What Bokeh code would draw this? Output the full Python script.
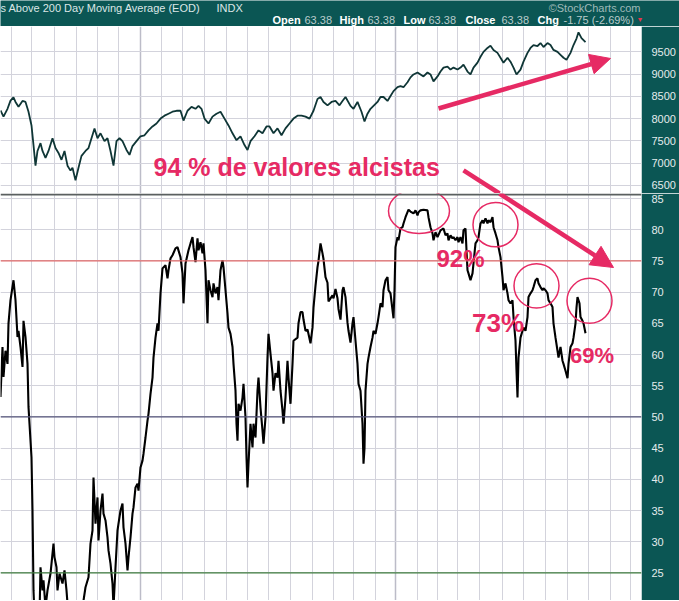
from bokeh.plotting import figure
from bokeh.layouts import column
from bokeh.models import (Range1d, LinearAxis, FixedTicker, Grid, Span, Label,
                          Arrow, NormalHead)
from bokeh.embed import file_html
from bokeh.resources import INLINE

# ---------------- data ----------------
# x = trading-day index across the chart
idx_x = [0, 3, 7, 10, 13, 15, 18, 22, 25, 28, 31, 33, 35, 37, 40, 42, 45, 48, 52, 55,
         58, 61, 64, 67, 70, 72, 75, 78, 81, 85, 88, 91, 94, 97, 100, 104, 107, 110, 113, 116,
         119, 122, 126, 129, 132, 136, 140, 144, 148, 152, 156, 160, 164, 168, 172, 176, 180, 183, 187, 191,
         195, 198, 201, 204, 208, 212, 216, 220, 224, 228, 232, 236, 240, 244, 247, 250, 254, 258, 262, 266,
         269, 273, 277, 281, 285, 289, 293, 297, 301, 305, 309, 313, 317, 320, 323, 327, 331, 335, 339, 342,
         345, 350, 353, 357, 361, 364, 367, 370, 373, 377, 380, 383, 387, 390, 393, 397, 400, 403, 407, 410,
         413, 417, 420, 423, 427, 430, 433, 437, 440, 443, 447, 450, 453, 457, 460, 463, 467, 470, 473, 477,
         480, 483, 487, 490, 493, 497, 500, 503, 507, 510, 513, 516, 520, 523, 527, 530, 533, 537, 540, 543,
         547, 550, 553, 557, 560, 563, 566, 570, 573, 576, 578, 581, 583, 585]
idx_y = [8185, 8046, 8222, 8405, 8480, 8376, 8266, 8398, 8376, 8156, 7848, 7407, 6945, 7275, 7451, 7275, 7121, 7275, 7561, 7341,
         7231, 7077, 7275, 6945, 6834, 6900, 6614, 6900, 7165, 7275, 7341, 7561, 7782, 7561, 7672, 7495, 7561, 7275, 6945, 7495,
         7561, 7495, 7297, 7187, 7385, 7495, 7605, 7627, 7738, 7826, 7892, 8002, 8068, 8112, 8156, 8178, 8178, 7958, 8178, 8266,
         8222, 8288, 8222, 8002, 7892, 8046, 8112, 8156, 8002, 7848, 7672, 7517, 7605, 7407, 7297, 7495, 7605, 7738, 7672, 7826,
         7826, 7672, 7782, 7627, 7782, 7892, 8002, 8068, 8068, 8046, 8002, 8178, 8443, 8487, 8376, 8300, 8376, 8398, 8300, 8398,
         8487, 8288, 8222, 8376, 8156, 7936, 8112, 8222, 8288, 8376, 8487, 8487, 8398, 8509, 8619, 8707, 8729, 8707, 8817, 8927,
         8993, 9037, 8993, 8949, 9037, 8993, 8839, 8949, 9059, 9147, 9169, 9103, 9147, 9103, 9147, 9214, 9059, 8993, 9147, 9258,
         9390, 9500, 9588, 9640, 9544, 9478, 9368, 9258, 9368, 9280, 9147, 8993, 9103, 9280, 9478, 9588, 9654, 9632, 9698, 9610,
         9698, 9654, 9544, 9500, 9434, 9368, 9324, 9478, 9654, 9800, 9940, 9808, 9764, 9720]

pct_x = [0, 2, 3, 5, 7, 8, 10, 13, 15, 17, 18, 20, 22, 23, 25, 27, 28, 31, 32, 33,
         35, 37, 39, 40, 42, 43, 45, 47, 50, 53, 54, 56, 57, 59, 62, 64, 66, 68, 72, 76,
         80, 82, 85, 88, 90, 92, 93, 95, 97, 98, 100, 102, 103, 105, 107, 108, 110, 112, 113, 115,
         117, 118, 120, 122, 123, 125, 127, 128, 130, 132, 133, 135, 137, 138, 140, 142, 143, 145, 147, 148,
         150, 152, 153, 155, 157, 158, 160, 162, 165, 167, 168, 170, 172, 175, 177, 180, 182, 183, 185, 188,
         190, 192, 193, 195, 197, 198, 200, 202, 203, 205, 207, 208, 210, 212, 213, 215, 217, 218, 220, 222,
         223, 225, 227, 228, 230, 232, 233, 235, 236, 237, 238, 240, 242, 243, 245, 246, 247, 248, 250, 252,
         253, 255, 257, 258, 260, 262, 263, 265, 267, 268, 270, 272, 273, 275, 277, 278, 280, 282, 283, 285,
         287, 288, 290, 292, 293, 297, 298, 300, 302, 303, 305, 307, 308, 310, 312, 313, 315, 317, 318, 320,
         322, 323, 325, 327, 328, 330, 332, 333, 335, 337, 338, 340, 342, 343, 345, 347, 348, 350, 352, 353,
         355, 357, 358, 360, 362, 363, 364, 365, 367, 368, 370, 372, 373, 375, 377, 378, 380, 382, 383, 385,
         387, 388, 390, 392, 393, 394, 395, 397, 398, 400, 402, 403, 405, 407, 408, 410, 413, 415, 417, 418,
         420, 423, 427, 428, 430, 432, 433, 435, 437, 440, 443, 445, 447, 448, 450, 452, 453, 455, 457, 458,
         460, 462, 463, 465, 466, 467, 468, 470, 472, 473, 475, 477, 478, 480, 482, 483, 485, 487, 488, 490,
         492, 493, 495, 497, 498, 500, 502, 503, 505, 507, 508, 510, 512, 513, 515, 516, 517, 518, 520, 522,
         523, 525, 527, 528, 530, 532, 533, 535, 537, 538, 540, 542, 543, 545, 547, 548, 550, 552, 553, 555,
         557, 558, 560, 562, 563, 565, 567, 568, 570, 572, 573, 575, 576, 577, 579, 580, 582, 583, 585]
pct_y = [53.2, 61.2, 56.4, 60.6, 58.5, 65.0, 68.7, 71.9, 68.7, 62.8, 63.8, 61.2, 58.0, 65.4, 62.8, 58.5, 51.6, 43.5, 35.0, 22.2,
         14.0, 12.0, 18.0, 25.9, 22.2, 23.8, 19.5, 22.2, 24.9, 29.7, 27.5, 25.9, 22.2, 24.9, 23.3, 25.4, 22.2, 18.0, 15.0, 10.0,
         16.0, 19.5, 22.7, 24.3, 29.7, 31.8, 40.3, 32.9, 37.1, 30.2, 35.0, 37.7, 34.5, 33.4, 30.7, 28.6, 26.5, 23.3, 19.5, 25.9,
         31.8, 32.9, 35.0, 36.1, 32.3, 29.7, 25.4, 27.5, 30.7, 34.5, 35.5, 38.7, 39.3, 38.2, 41.9, 43.0, 44.1, 46.7, 49.4, 50.5,
         53.7, 56.3, 59.5, 62.7, 65.0, 63.8, 69.8, 73.8, 74.3, 72.2, 73.5, 75.4, 75.9, 77.0, 77.2, 75.6, 73.0, 68.2, 74.6, 76.7,
         77.8, 78.8, 77.2, 74.8, 78.6, 76.7, 78.0, 76.2, 77.8, 73.5, 65.0, 71.9, 70.3, 69.2, 71.4, 69.8, 70.8, 68.7, 73.5, 75.1,
         74.0, 70.3, 66.6, 64.3, 63.3, 61.2, 58.5, 54.2, 48.9, 46.2, 52.1, 51.0, 53.1, 55.3, 49.9, 43.5, 38.7, 42.5, 48.9, 45.1,
         48.9, 46.7, 54.2, 56.3, 51.5, 47.8, 45.7, 49.9, 59.5, 63.3, 60.1, 57.0, 54.2, 57.0, 56.3, 59.0, 54.2, 51.0, 48.9, 53.1,
         59.0, 56.3, 52.1, 58.5, 62.2, 62.7, 65.0, 66.8, 66.8, 65.6, 63.8, 64.0, 63.3, 61.8, 64.3, 67.5, 71.0, 74.0, 75.0, 77.8,
         76.2, 75.3, 72.4, 71.5, 68.5, 69.0, 69.5, 69.0, 70.5, 69.0, 67.3, 65.6, 70.3, 70.8, 69.2, 65.1, 63.8, 61.9, 65.0, 66.0,
         62.2, 58.5, 55.3, 54.2, 48.9, 42.5, 45.0, 54.2, 58.5, 59.5, 61.2, 62.7, 63.8, 63.3, 65.0, 66.0, 68.2, 67.6, 70.3, 71.9,
         72.4, 70.3, 69.8, 67.1, 65.8, 70.3, 77.2, 78.8, 78.3, 80.2, 80.4, 81.0, 82.0, 82.8, 83.2, 82.9, 82.6, 83.1, 82.3, 82.8,
         83.1, 83.2, 83.1, 82.0, 80.4, 79.4, 78.3, 79.6, 78.8, 79.9, 80.2, 79.1, 79.4, 78.3, 79.1, 78.6, 78.8, 78.3, 78.8, 78.0,
         78.8, 77.8, 79.9, 80.2, 76.7, 73.5, 73.0, 71.9, 73.0, 74.6, 77.8, 78.3, 78.8, 81.0, 81.5, 81.0, 81.8, 81.0, 81.5, 81.2,
         82.0, 80.4, 79.4, 78.3, 77.2, 75.6, 72.4, 70.3, 71.4, 69.8, 68.7, 68.2, 68.7, 66.0, 62.2, 57.4, 53.1, 59.5, 62.7, 63.8,
         64.3, 63.8, 66.0, 69.2, 69.8, 70.3, 70.8, 71.9, 72.2, 71.4, 70.8, 70.3, 70.6, 70.3, 69.8, 68.7, 68.2, 67.6, 65.0, 62.7,
         60.6, 59.5, 61.2, 59.0, 58.5, 57.4, 56.2, 58.5, 61.2, 61.8, 62.7, 65.0, 67.5, 69.2, 68.2, 66.0, 65.4, 65.0, 63.4]

price_ticks = [6500, 7000, 7500, 8000, 8500, 9000, 9500]
pct_ticks = [20, 25, 30, 35, 40, 45, 50, 55, 60, 65, 70, 75, 80, 85]
month_lines = [11, 31, 54, 76, 97, 118, 161, 182, 204, 226, 247, 268, 290, 312, 333, 353, 375,
               417, 437, 457, 479, 502, 523, 545, 567, 588, 610, 630]
year_lines = [140, 395]
ref_levels = [75, 50, 25]

title_text = "s Above 200 Day Moving Average (EOD)"
symbol_text = "INDX"
site_text = "\u00a9StockCharts.com"
quote_parts = [("Open", True), ("63.38", False), ("High", True), ("63.38", False),
               ("Low", True), ("63.38", False), ("Close", True), ("63.38", False),
               ("Chg", True), ("-1.75 (-2.69%)", False)]
quote_pos = [272, 304, 339, 367, 403, 428, 465, 501, 537, 563]

headline = "94 % de valores alcistas"
peak_labels = ["92%", "73%", "69%"]

# ---------------- styling ----------------
TEAL = "#0b5654"
PINK = "#e62a64"
GRID = "#d3d3dc"
FONT = "Liberation Sans"
FW = 641
RB = 38


def strip_grids(p):
    p.center = [r for r in p.center if not isinstance(r, Grid)]


def add_grids(p, yticks):
    p.add_layout(Grid(dimension=0, ticker=FixedTicker(ticks=month_lines),
                      grid_line_color=GRID, grid_line_width=1))
    p.add_layout(Grid(dimension=0, ticker=FixedTicker(ticks=year_lines),
                      grid_line_color="#bcbcc8", grid_line_width=1.5))
    p.add_layout(Grid(dimension=1, ticker=FixedTicker(ticks=yticks),
                      grid_line_color=GRID, grid_line_width=1))


def right_axis(ticks):
    return LinearAxis(ticker=FixedTicker(ticks=ticks), axis_line_color=None,
                      major_tick_line_color=None, minor_tick_line_color=None,
                      major_label_text_color="#e4ecec", major_label_text_font=FONT,
                      major_label_text_font_size="11px", major_label_standoff=4)


# ---------------- header strip ----------------
p0 = figure(frame_width=FW + RB, frame_height=26, x_range=Range1d(0, FW + RB),
            y_range=Range1d(0, 26), output_backend="svg", toolbar_location=None,
            x_axis_location=None, y_axis_location=None,
            min_border_left=0, min_border_right=0, min_border_top=0, min_border_bottom=0,
            background_fill_color=TEAL, border_fill_color=TEAL, outline_line_color=None)
strip_grids(p0)
p0.add_layout(Label(x=0, y=18.5, text=title_text, text_font=FONT, text_font_size="11px",
                    text_color="#dce6e6", text_baseline="middle"))
p0.add_layout(Label(x=216, y=18.5, text=symbol_text, text_font=FONT, text_font_size="11px",
                    text_color="#dce6e6", text_baseline="middle"))
p0.add_layout(Label(x=640, y=18.5, text=site_text, text_font=FONT, text_font_size="11px",
                    text_color="#9fb9b8", text_baseline="middle", text_align="right"))
for (txt, bold), xp in zip(quote_parts, quote_pos):
    p0.add_layout(Label(x=xp, y=7, text=txt, text_font=FONT, text_font_size="11px",
                        text_font_style="bold" if bold else "normal",
                        text_color="#ffffff" if bold else "#b9cbcb",
                        text_baseline="middle"))
p0.add_layout(Label(x=636, y=7, text="\u25bc", text_font=FONT, text_font_size="7px",
                    text_color="#e8344a", text_baseline="middle"))

# ---------------- upper panel ----------------
p1 = figure(frame_width=FW, frame_height=167, x_range=Range1d(0, FW),
            y_range=Range1d(6320, 10070), output_backend="svg", toolbar_location=None,
            x_axis_location=None, y_axis_location=None,
            min_border_left=0, min_border_right=RB, min_border_top=0, min_border_bottom=0,
            background_fill_color="white", border_fill_color=TEAL, outline_line_color=None)
strip_grids(p1)
add_grids(p1, price_ticks)
p1.add_layout(right_axis(price_ticks), "right")
p1.line(idx_x, idx_y, line_color="#0f3636", line_width=1.8)

p1.add_layout(Label(x=153, y=6904, text=headline, text_font=FONT, text_font_style="bold",
                    text_font_size="25px", text_color=PINK, text_baseline="middle"))
p1.add_layout(Arrow(end=NormalHead(size=20, fill_color=PINK, line_color=PINK, line_width=1),
                    x_start=438, y_start=8229, x_end=610, y_end=9352,
                    line_color=PINK, line_width=4.5))
p1.add_layout(Arrow(end=None, x_start=463, y_start=6837, x_end=499, y_end=6320,
                    line_color=PINK, line_width=4.5))

# ---------------- lower panel ----------------
p2 = figure(frame_width=FW, frame_height=407, x_range=p1.x_range,
            y_range=Range1d(20.58, 85.8), output_backend="svg", toolbar_location=None,
            x_axis_location=None, y_axis_location=None,
            min_border_left=0, min_border_right=RB, min_border_top=0, min_border_bottom=0,
            background_fill_color="white", border_fill_color=TEAL, outline_line_color=None)
strip_grids(p2)
add_grids(p2, pct_ticks)
p2.add_layout(right_axis(pct_ticks), "right")

for lvl, col in zip(ref_levels, ["#e26a6a", "#55557a", "#3f7d3f"]):
    p2.add_layout(Span(location=lvl, dimension="width", line_color=col, line_width=1.2))
p2.add_layout(Span(location=85.64, dimension="width", line_color="#5b6060", line_width=2))

p2.line(pct_x, pct_y, line_color="black", line_width=2.1)

circ_x = [418.5, 495, 536, 589]
circ_y = [83.0, 80.8, 71.0, 68.6]
circ_w = [61, 45, 45, 45]
circ_h = [7.2, 7.1, 7.1, 7.2]
p2.ellipse(x=circ_x, y=circ_y, width=circ_w, height=circ_h, fill_color=None,
           line_color=PINK, line_width=1.5)

p2.add_layout(Arrow(end=NormalHead(size=22, fill_color=PINK, line_color=PINK, line_width=1),
                    x_start=499, y_start=85.8, x_end=613, y_end=73.94,
                    line_color=PINK, line_width=4.5))

for txt, xx, yy, fs in zip(peak_labels, [460, 497.5, 591.5], [75.4, 65.1, 59.8],
                           ["24px", "26px", "22px"]):
    p2.add_layout(Label(x=xx, y=yy, text=txt, text_font=FONT, text_font_style="bold",
                        text_font_size=fs, text_color=PINK, text_align="center",
                        text_baseline="middle"))

layout = column(p0, p1, p2, spacing=0)
open("out.html", "w").write(file_html(layout, INLINE))
